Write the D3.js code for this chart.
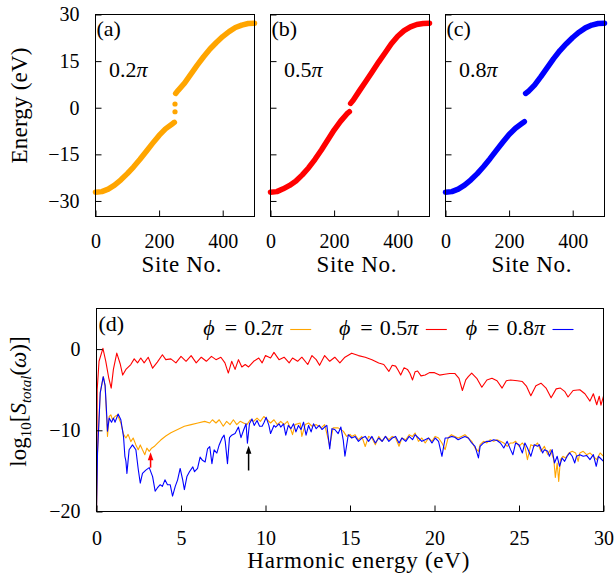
<!DOCTYPE html>
<html><head><meta charset="utf-8"><script src="https://cdn.jsdelivr.net/npm/d3@7"></script></head>
<body style="margin:0; font-family: 'Liberation Serif', 'Times New Roman', Tinos, Times;">
<svg id="chart" width="616" height="579" font-family="Liberation Serif"></svg>
<script>
// ---- panels (a)-(c): band energy (eV) against site number ----
const lowerSites = [0, 20, 40, 60, 80, 100, 120, 140, 160, 180, 200, 220, 240, 248];
const upperSites = [252, 260, 280, 300, 320, 340, 360, 380, 400, 420, 440, 460, 480, 500];
const midSitesA = [250, 250];

const energyLowA = [-27.2, -27.0, -26.2, -24.9, -23.2, -21.2, -19.0, -16.6, -14.0, -11.4, -8.9, -6.8, -5.3, -4.7];
const energyUpA = [4.6, 5.6, 7.9, 10.8, 13.7, 16.4, 18.9, 21.0, 22.9, 24.5, 25.8, 26.6, 27.1, 27.2];
const energyMidA = [1.2, -1.3];

const energyLowB = [-27.2, -27.0, -26.1, -25.0, -23.6, -21.6, -19.3, -16.6, -13.6, -10.4, -7.2, -4.4, -2.0, -1.3];
const energyUpB = [1.4, 2.4, 5.5, 8.5, 11.6, 14.7, 17.6, 20.6, 23.0, 24.8, 26.0, 26.8, 27.1, 27.2];

const energyLowC = [-27.2, -27.0, -26.2, -24.9, -23.2, -21.2, -18.9, -16.4, -13.7, -11.1, -8.6, -6.6, -5.1, -4.5];
const energyUpC = [4.6, 5.2, 7.3, 10.0, 12.9, 15.8, 18.4, 20.6, 22.6, 24.3, 25.7, 26.6, 27.1, 27.2];

const panelTags = ['(a)', '(b)', '(c)'];
const phaseLabels = ['0.2', '0.5', '0.8'];
const phaseColors = ['#ffa500', '#ff0000', '#0000ff'];
const energyTicks = [-30, -15, 0, 15, 30];
const siteTicks = [0, 200, 400];

// ---- panel (d): log10 of the total spectrum against harmonic energy (eV) ----
const omegaRed = [0, 0.04, 0.15, 0.38, 0.55, 0.72, 0.87, 1.0, 1.2, 1.4, 1.55, 1.74, 2.03, 2.23, 2.43, 2.62, 2.82, 3.06, 3.32, 3.6,
  3.9, 4.1, 4.4, 4.7, 5.0, 5.3, 5.6, 5.9, 6.2, 6.5, 6.8, 7.07, 7.36, 7.6, 7.8, 8.0, 8.2, 8.4, 8.6, 8.8,
  9.0, 9.3, 9.6, 9.8, 10.0, 10.3, 10.5, 10.8, 11.1, 11.4, 11.6, 11.9, 12.15, 12.5, 12.75, 13.0, 13.2, 13.5, 13.8, 14.1,
  14.4, 14.7, 15.1, 15.5, 15.9, 16.3, 16.7, 17.0, 17.3, 17.5, 17.7, 17.85, 18.0, 18.2, 18.4, 18.55, 18.7, 18.85, 19.0, 19.2,
  19.45, 19.7, 20.0, 20.3, 20.6, 20.9, 21.2, 21.45, 21.65, 21.85, 22.0, 22.2, 22.5, 22.8, 23.1, 23.4, 23.7, 24.0, 24.25, 24.5,
  24.9, 25.2, 25.45, 25.7, 26.0, 26.3, 26.6, 26.9, 27.2, 27.45, 27.7, 27.9, 28.2, 28.6, 28.9, 29.2, 29.4, 29.6, 29.75, 29.85, 30.0];
const logRed = [-20, -5, -1.5, 0.1, -1.5, -3.5, -4.8, -2.5, -0.5, -1.8, -3.2, -2.5, -1.9, -1.2, -1.7, -1.1, -1.7, -1.0, -2.35, -1.6,
  -0.7, -1.3, -1.2, -1.7, -0.9, -1.5, -0.8, -1.7, -1.0, -1.5, -0.9, -1.3, -1.0, -1.7, -2.95, -1.5, -2.5, -1.3, -2.2, -1.9,
  -2.2, -1.5, -1.1, -1.7, -0.8, -1.1, -0.4, -1.3, -1.0, -1.7, -1.1, -1.5, -1.0, -1.9, -0.8, -1.3, -2.0, -0.8, -1.5, -1.0,
  -1.7, -1.0, -0.5, -0.8, -1.0, -1.3, -1.7, -1.9, -2.75, -2.0, -2.1, -2.6, -3.2, -2.3, -2.5, -3.0, -3.8, -2.8, -2.7, -3.3,
  -3.2, -2.9, -2.9, -3.2, -3.1, -3.0, -3.0, -3.6, -5.1, -3.8, -3.4, -2.95, -3.6, -4.7, -3.8, -3.6, -3.9, -4.8, -3.9, -3.8,
  -3.9, -4.0, -4.6, -5.75, -4.5, -4.2, -4.8, -6.0, -4.9, -4.8, -5.2, -5.9, -5.1, -5.0, -5.5, -6.4, -5.5, -6.85, -5.8, -6.9, -5.8];

const omegaOrange = [0, 0.06, 0.22, 0.4, 0.51, 0.6, 0.65, 0.75, 0.85, 0.95, 1.09, 1.24, 1.44, 1.6, 1.74, 1.87, 2.03, 2.17, 2.33, 2.47,
  2.59, 2.72, 2.86, 2.98, 3.12, 3.26, 3.41, 3.6, 3.8, 4.1, 4.4, 4.8, 5.2, 5.6, 6.0, 6.4, 6.7, 6.86, 7.07, 7.26,
  7.5, 7.7, 7.9, 8.1, 8.3, 8.5, 8.7, 8.9, 9.1, 9.3, 9.5, 9.7, 9.9, 10.1, 10.3, 10.5, 10.7, 10.9, 11.1, 11.3,
  11.5, 11.6, 11.75, 12.05, 12.15, 12.35, 12.55, 12.75, 13.0, 13.3, 13.5, 13.8, 14.0, 14.3, 14.6, 14.8, 15.0, 15.1, 15.3, 15.5,
  15.7, 15.9, 16.1, 16.3, 16.5, 16.7, 16.9, 17.1, 17.3, 17.5, 17.7, 17.9, 18.07, 18.3, 18.5, 18.7, 18.85, 19.05, 19.25, 19.45,
  19.65, 19.85, 20.04, 20.24, 20.44, 20.63, 20.8, 21.0, 21.2, 21.4, 21.6, 21.8, 22.0, 22.2, 22.4, 22.6, 22.7, 22.9, 23.1, 23.3,
  23.5, 23.7, 23.9, 24.1, 24.3, 24.5, 24.64, 24.8, 25.0, 25.2, 25.35, 25.5, 25.7, 25.9, 26.1, 26.3, 26.5, 26.7, 26.86, 27.06,
  27.15, 27.26, 27.35, 27.45, 27.6, 27.75, 27.95, 28.15, 28.35, 28.5, 28.6, 28.8, 29.0, 29.2, 29.4, 29.6, 29.8, 30.0];
const logOrange = [-20, -12.8, -5.4, -3.4, -4.5, -8.5, -10.75, -8.3, -8.1, -8.7, -8.3, -8.1, -9.1, -10.5, -10.95, -10.5, -11.4, -10.95, -11.8, -12.4,
  -11.8, -12.4, -13.0, -12.2, -12.6, -12.2, -12.0, -11.6, -11.2, -10.7, -10.3, -9.9, -9.5, -9.3, -9.1, -8.9, -9.1, -8.7, -9.1, -8.7,
  -9.5, -8.9, -9.3, -8.7, -9.3, -8.9, -9.1, -9.3, -8.7, -8.9, -8.5, -8.9, -8.3, -8.7, -9.1, -8.7, -9.3, -8.9, -9.3, -8.9,
  -9.9, -10.54, -9.3, -9.1, -10.75, -9.3, -9.1, -9.5, -9.3, -9.7, -9.3, -11.9, -9.7, -9.7, -10.1, -10.75, -10.5, -10.75, -10.54, -11.16,
  -10.75, -12.0, -10.75, -10.95, -11.77, -10.75, -11.36, -10.75, -11.16, -10.75, -10.95, -11.97, -10.95, -11.16, -10.54, -10.75, -10.33, -11.36, -10.95, -11.56,
  -10.95, -11.36, -10.75, -10.95, -11.56, -12.38, -10.95, -10.54, -10.75, -10.95, -10.75, -10.54, -10.95, -11.36, -12.18, -12.59, -11.77, -11.36, -11.56, -11.16,
  -11.36, -11.16, -11.36, -11.56, -11.97, -11.56, -11.56, -11.36, -11.97, -11.56, -11.97, -13.61, -11.77, -11.97, -11.56, -12.59, -11.97, -13.0, -12.38, -13.61,
  -15.8, -14.02, -16.3, -13.61, -13.2, -13.41, -12.79, -12.59, -12.79, -13.82, -12.79, -12.59, -13.0, -12.79, -13.2, -13.61, -12.79, -13.2];

const omegaBlue = [0, 0.06, 0.22, 0.4, 0.51, 0.62, 0.65, 0.75, 0.89, 1.0, 1.1, 1.28, 1.44, 1.6, 1.68, 1.74, 1.8, 1.93, 2.13, 2.33,
  2.47, 2.59, 2.72, 2.92, 3.12, 3.32, 3.47, 3.6, 3.77, 3.9, 4.05, 4.2, 4.36, 4.5, 4.66, 4.8, 4.95, 5.1, 5.2, 5.35,
  5.5, 5.7, 5.8, 5.98, 6.13, 6.27, 6.43, 6.57, 6.7, 6.83, 6.96, 7.12, 7.26, 7.42, 7.55, 7.62, 7.75, 7.87, 8.0, 8.2,
  8.4, 8.55, 8.7, 8.85, 8.93, 9.05, 9.2, 9.33, 9.5, 9.65, 9.8, 9.92, 10.04, 10.2, 10.3, 10.5, 10.6, 10.8, 10.9, 11.07,
  11.2, 11.35, 11.5, 11.66, 11.8, 11.95, 12.1, 12.25, 12.4, 12.55, 12.7, 12.84, 13.0, 13.18, 13.34, 13.5, 13.63, 13.8, 13.93, 14.1,
  14.3, 14.46, 14.6, 14.7, 14.9, 15.1, 15.3, 15.5, 15.7, 15.9, 16.1, 16.3, 16.5, 16.7, 16.9, 17.1, 17.3, 17.5, 17.7, 17.9,
  18.07, 18.3, 18.5, 18.7, 18.85, 19.05, 19.25, 19.45, 19.65, 19.85, 20.04, 20.24, 20.44, 20.63, 20.8, 21.0, 21.2, 21.4, 21.6, 21.8,
  22.0, 22.2, 22.4, 22.6, 22.7, 22.9, 23.1, 23.3, 23.5, 23.7, 23.9, 24.1, 24.3, 24.5, 24.64, 24.8, 25.0, 25.2, 25.35, 25.5,
  25.7, 25.9, 26.1, 26.2, 26.4, 26.5, 26.7, 26.8, 26.96, 27.1, 27.26, 27.4, 27.55, 27.7, 27.85, 28.0, 28.15, 28.3, 28.4, 28.6,
  28.8, 29.0, 29.2, 29.4, 29.57, 29.7, 29.8, 30.0];
const logBlue = [-20, -12.8, -5.4, -3.4, -4.5, -8.7, -10.1, -8.5, -9.0, -8.5, -9.0, -8.0, -8.7, -10.8, -13.2, -13.8, -15.3, -12.4, -11.8, -12.4,
  -14.8, -16.5, -15.3, -14.9, -14.6, -15.7, -17.5, -17.1, -16.7, -16.9, -16.1, -16.7, -16.7, -18.1, -16.9, -16.1, -14.7, -16.1, -17.3, -15.7,
  -15.1, -14.5, -15.1, -14.7, -13.3, -13.7, -13.9, -12.3, -12.0, -14.1, -12.4, -12.8, -11.8, -11.0, -10.6, -11.4, -14.1, -10.9, -10.6, -10.4,
  -9.6, -10.9, -10.0, -9.2, -11.6, -9.2, -8.6, -9.4, -8.8, -9.5, -9.5, -9.0, -8.4, -9.4, -10.4, -9.4, -9.6, -9.2, -9.6, -9.2,
  -10.6, -9.4, -9.8, -9.2, -10.2, -9.4, -9.9, -9.0, -10.6, -9.4, -10.2, -9.2, -9.8, -9.4, -9.9, -9.6, -9.4, -12.3, -9.8, -9.9,
  -10.4, -9.6, -11.2, -13.2, -10.54, -10.95, -10.75, -11.36, -10.95, -10.75, -11.36, -10.75, -11.56, -10.95, -11.36, -10.75, -11.36, -10.95, -10.75, -11.56,
  -10.95, -11.36, -10.75, -11.16, -10.54, -10.95, -11.36, -11.16, -10.95, -11.56, -10.95, -11.36, -13.2, -10.95, -10.95, -10.75, -10.85, -11.16, -10.95, -10.75,
  -10.95, -11.56, -11.97, -13.4, -11.97, -11.56, -11.36, -11.36, -11.16, -11.26, -11.56, -12.18, -11.36, -12.38, -13.0, -11.56, -11.77, -12.79, -11.56, -12.18,
  -13.2, -11.77, -11.97, -11.77, -12.79, -12.38, -12.59, -13.2, -12.38, -14.02, -13.2, -14.43, -13.41, -13.82, -13.2, -12.79, -13.2, -14.02, -13.2, -13.0,
  -13.2, -13.1, -13.61, -13.0, -14.43, -13.2, -13.41, -13.82];

const harmonicTicks = [0, 5, 10, 15, 20, 25, 30];
const logTicks = [-20, -10, 0];
const arrowEnergy = [3.2, 9.0];
const arrowFrom = [-14.6, -14.95];
const arrowTo = [-12.7, -11.9];
const arrowColors = ['#ff0000', '#000000'];

const serifStack = "'Liberation Serif', 'Times New Roman', Tinos, Times";
const svg = d3.select('#chart');

// ---------- top row ----------
const panelLeft = [95.5, 270.5, 445.5];
const panelW = 159;
const topY = d3.scaleLinear().domain([-35, 30]).range([216.5, 14.5]);

const bands = [
  { low: energyLowA, up: energyUpA, midSites: midSitesA, mid: energyMidA },
  { low: energyLowB, up: energyUpB, midSites: [], mid: [] },
  { low: energyLowC, up: energyUpC, midSites: [], mid: [] }
];

const bandLine = d3.line();

bands.forEach((b, i) => {
  const x = d3.scaleLinear().domain([0, 500]).range([panelLeft[i], panelLeft[i] + panelW]);
  const g = svg.append('g');

  [[lowerSites, b.low], [upperSites, b.up]].forEach(([s, e]) => {
    g.append('path')
      .attr('d', bandLine(s.map((v, k) => [x(v), topY(e[k])])))
      .attr('fill', 'none')
      .attr('stroke', phaseColors[i])
      .attr('stroke-width', 5.5)
      .attr('stroke-linecap', 'round')
      .attr('stroke-linejoin', 'round');
  });

  g.selectAll('.mid')
    .data(b.mid)
    .enter()
    .append('circle')
    .attr('cx', (d, k) => x(b.midSites[k]))
    .attr('cy', d => topY(d))
    .attr('r', 2.6)
    .attr('fill', phaseColors[i]);

  const yAxis = g.append('g')
    .attr('transform', `translate(${panelLeft[i]},0)`)
    .call(d3.axisLeft(topY).tickValues(energyTicks).tickSizeInner(-6).tickSizeOuter(0).tickPadding(16)
      .tickFormat(i === 0 ? d3.format('d') : () => ''));
  yAxis.select('.domain').remove();
  yAxis.attr('font-size', 20).attr('font-family', null);

  const xAxis = g.append('g')
    .attr('transform', `translate(0,${topY.range()[0]})`)
    .call(d3.axisBottom(x).tickValues(siteTicks).tickSizeInner(-6).tickSizeOuter(0).tickFormat(d3.format('d')));
  xAxis.select('.domain').remove();
  xAxis.attr('font-size', 20).attr('font-family', null);
  xAxis.selectAll('text').attr('y', 31.5).attr('dy', 0);

  g.append('rect')
    .attr('x', panelLeft[i]).attr('y', topY.range()[1])
    .attr('width', panelW).attr('height', topY.range()[0] - topY.range()[1])
    .attr('fill', 'none').attr('stroke', '#000').attr('stroke-width', 1);

  g.append('text')
    .attr('x', panelLeft[i] + 1).attr('y', 36)
    .attr('font-size', 22)
    .text(panelTags[i]);

  const ph = g.append('text')
    .attr('x', panelLeft[i] + 13.5).attr('y', 77)
    .attr('font-size', 22);
  ph.append('tspan').text(phaseLabels[i]);
  ph.append('tspan').attr('font-style', 'italic').text('π');

  g.append('text')
    .attr('x', panelLeft[i] + panelW / 2 + 6.5).attr('y', 272)
    .attr('text-anchor', 'middle')
    .attr('font-size', 23)
    .attr('textLength', 80)
    .attr('lengthAdjust', 'spacing')
    .text('Site No.');
});

svg.append('text')
  .attr('transform', 'translate(27,105.5) rotate(-90)')
  .attr('text-anchor', 'middle')
  .attr('font-size', 23)
  .attr('textLength', 116)
  .attr('lengthAdjust', 'spacing')
  .text('Energy (eV)');

// ---------- bottom panel ----------
const dx = d3.scaleLinear().domain([0, 30]).range([96.5, 603.5]);
const dy = d3.scaleLinear().domain([-20, 5]).range([511.5, 308.5]);

const spectra = [
  { omega: omegaOrange, s: logOrange, color: phaseColors[0] },
  { omega: omegaRed, s: logRed, color: phaseColors[1] },
  { omega: omegaBlue, s: logBlue, color: phaseColors[2] }
];

const specLine = d3.line();
spectra.forEach(sp => {
  svg.append('path')
    .attr('d', specLine(sp.omega.map((w, k) => [dx(w), dy(sp.s[k])])))
    .attr('fill', 'none')
    .attr('stroke', sp.color)
    .attr('stroke-width', 1.1)
    .attr('stroke-linejoin', 'round');
});

arrowEnergy.forEach((w, k) => {
  const ax = dx(w);
  const tip = dy(arrowTo[k]);
  svg.append('line')
    .attr('x1', ax).attr('x2', ax)
    .attr('y1', dy(arrowFrom[k])).attr('y2', tip + 5)
    .attr('stroke', arrowColors[k]).attr('stroke-width', 1.5);
  svg.append('path')
    .attr('d', `M${ax},${tip} L${ax - 2.8},${tip + 8} L${ax + 2.8},${tip + 8} Z`)
    .attr('fill', arrowColors[k]);
});

const dyAxis = svg.append('g')
  .attr('transform', `translate(${dx.range()[0]},0)`)
  .call(d3.axisLeft(dy).tickValues(logTicks).tickSizeInner(-6).tickSizeOuter(0).tickPadding(16).tickFormat(d3.format('d')));
dyAxis.select('.domain').remove();
dyAxis.attr('font-size', 20).attr('font-family', null);

const dxAxis = svg.append('g')
  .attr('transform', `translate(0,${dy.range()[0]})`)
  .call(d3.axisBottom(dx).tickValues(harmonicTicks).tickSizeInner(-6).tickSizeOuter(0).tickFormat(d3.format('d')));
dxAxis.select('.domain').remove();
dxAxis.attr('font-size', 20).attr('font-family', null);
dxAxis.selectAll('text').attr('y', 33.5).attr('dy', 0);

svg.append('rect')
  .attr('x', dx.range()[0]).attr('y', dy.range()[1])
  .attr('width', dx.range()[1] - dx.range()[0]).attr('height', dy.range()[0] - dy.range()[1])
  .attr('fill', 'none').attr('stroke', '#000').attr('stroke-width', 1);

svg.append('text')
  .attr('x', 98.5).attr('y', 330.5)
  .attr('font-size', 22)
  .text('(d)');

// legend
const legendRight = [282.7, 418.3, 545];
phaseLabels.forEach((p, i) => {
  const t = svg.append('text')
    .attr('x', legendRight[i]).attr('y', 335)
    .attr('text-anchor', 'end')
    .attr('font-size', 22);
  t.append('tspan').attr('font-style', 'italic').text('ϕ');
  t.append('tspan').attr('dx', 10).text('=');
  t.append('tspan').attr('dx', 7).text(p);
  t.append('tspan').attr('font-style', 'italic').text('π');
  svg.append('line')
    .attr('x1', legendRight[i] + 7.5).attr('x2', legendRight[i] + 28.5)
    .attr('y1', 329.5).attr('y2', 329.5)
    .attr('stroke', phaseColors[i]).attr('stroke-width', 1.1);
});

svg.append('text')
  .attr('x', 358.3).attr('y', 568)
  .attr('text-anchor', 'middle')
  .attr('font-size', 23)
  .attr('textLength', 222)
  .attr('lengthAdjust', 'spacing')
  .text('Harmonic energy (eV)');

const yl = svg.append('text')
  .attr('transform', 'translate(25.5,401.5) rotate(-90)')
  .attr('text-anchor', 'middle')
  .attr('font-size', 23);
yl.append('tspan').text('log');
yl.append('tspan').attr('font-size', 15).attr('dy', 5).text('10');
yl.append('tspan').attr('dy', -5).text('[');
yl.append('tspan').attr('font-style', 'italic').text('S');
yl.append('tspan').attr('font-style', 'italic').attr('font-size', 15).attr('dy', 5).text('total');
yl.append('tspan').attr('dy', -5).text('(');
yl.append('tspan').attr('font-style', 'italic').text('ω');
yl.append('tspan').text(')]');

// set the serif face on every label, and again once fonts report ready
const applySerif = () => svg.selectAll('text').style('font-family', serifStack);
applySerif();
if (document.fonts && document.fonts.ready) document.fonts.ready.then(applySerif);
</script>
</body>
</html>
